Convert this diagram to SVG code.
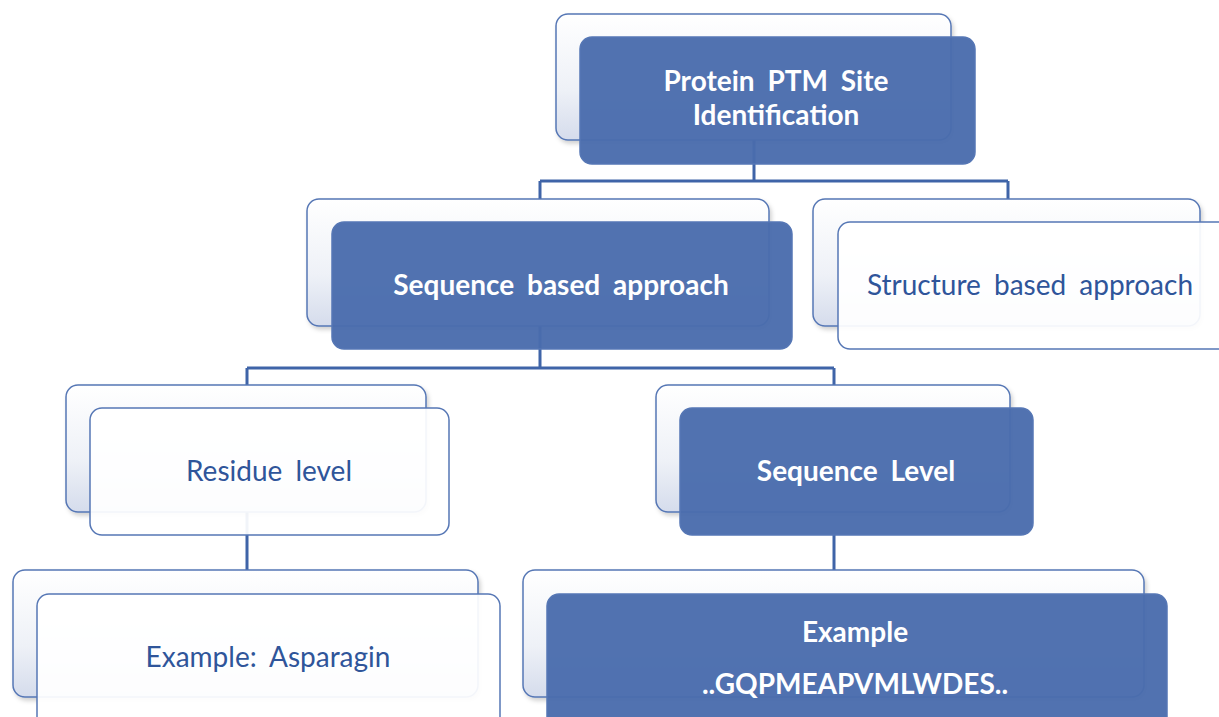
<svg xmlns="http://www.w3.org/2000/svg" width="1219" height="717" viewBox="0 0 1219 717">
<defs>
<linearGradient id="bg" x1="0" y1="0" x2="0" y2="1">
<stop offset="0" stop-color="#ffffff"/>
<stop offset="0.6" stop-color="#eef1f7"/>
<stop offset="1" stop-color="#d5dcec"/>
</linearGradient>
<filter id="sh" x="-5%" y="-5%" width="115%" height="120%">
<feDropShadow dx="2" dy="3" stdDeviation="2" flood-color="#000" flood-opacity="0.18"/>
</filter>
</defs>
<style>
.back{fill:url(#bg);stroke:#5677b5;stroke-width:1.5;filter:url(#sh)}
.fb{fill:#4a6cad;fill-opacity:0.96;stroke:#5677b5;stroke-width:1.5}
.fw{fill:#ffffff;fill-opacity:0.93;stroke:#5677b5;stroke-width:1.5}
.tb{font-family:Lato,"Liberation Sans",sans-serif;font-weight:bold;font-size:28px;word-spacing:6px;fill:#ffffff;text-anchor:middle}
.tw{font-family:Lato,"Liberation Sans",sans-serif;font-size:28px;word-spacing:6px;fill:#2f559a;text-anchor:middle}
.con{fill:none;stroke:#3f64a8;stroke-width:3}
</style>
<g id="connectors">
<path class="con" d="M754 140 V181 M540 181 H1008 M540 181 V200 M1008 181 V200"/>
<path class="con" d="M540 326 V368 M247 368 H834 M247 368 V386 M834 368 V386"/>
<path class="con" d="M247 512 V571 M834 535 V571"/>
</g>
<g id="n1">
<rect class="back" x="556" y="14" width="395" height="126" rx="12"/>
<rect class="fb" x="580" y="37" width="395" height="127" rx="12"/>
<text class="tb" x="776" y="91">Protein PTM Site</text>
<text class="tb" x="776" y="125">Identification</text>
</g>
<g id="n2">
<rect class="back" x="307" y="199" width="462" height="127" rx="12"/>
<rect class="fb" x="332" y="222" width="460" height="127" rx="12"/>
<text class="tb" x="561" y="295">Sequence based approach</text>
</g>
<g id="n3">
<rect class="back" x="813" y="199" width="387" height="127" rx="12"/>
<rect class="fw" x="838" y="222" width="395" height="127" rx="12"/>
<text class="tw" x="1030" y="295">Structure based approach</text>
</g>
<g id="n4">
<rect class="back" x="66" y="385" width="360" height="127" rx="12"/>
<rect class="fw" x="90" y="408" width="359" height="127" rx="12"/>
<text class="tw" x="269" y="481">Residue level</text>
</g>
<g id="n5">
<rect class="back" x="656" y="385" width="354" height="127" rx="12"/>
<rect class="fb" x="680" y="408" width="353" height="127" rx="12"/>
<text class="tb" x="856" y="481">Sequence Level</text>
</g>
<g id="n6">
<rect class="back" x="13" y="570" width="465" height="127" rx="12"/>
<rect class="fw" x="37" y="594" width="463" height="135" rx="12"/>
<text class="tw" x="268" y="667">Example: Asparagin</text>
</g>
<g id="n7">
<rect class="back" x="523" y="570" width="621" height="127" rx="12"/>
<rect class="fb" x="547" y="594" width="620" height="135" rx="12"/>
<text class="tb" x="855" y="642">Example</text>
<text class="tb" x="855" y="694">..GQPMEAPVMLWDES..</text>
</g>
</svg>
